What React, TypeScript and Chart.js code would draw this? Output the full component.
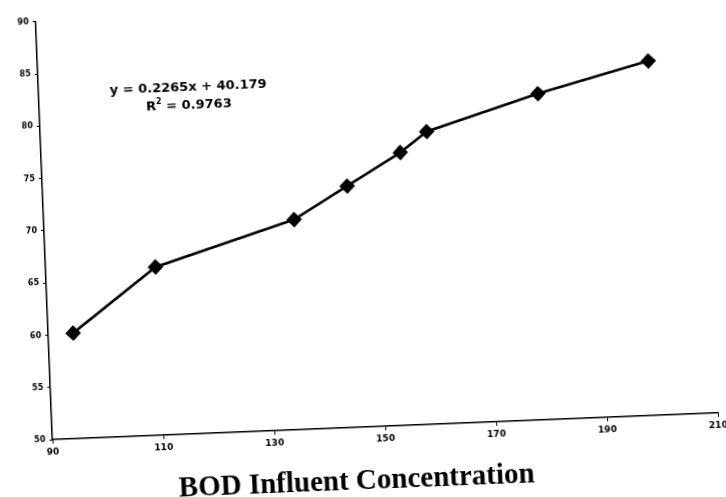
import React, { useEffect, useRef } from "react";
import { Chart, registerables } from "chart.js";

Chart.register(...registerables);

// BOD influent concentration (x) and removal efficiency (y)
const bodInfluent = [94.5, 109.8, 135.1, 144.9, 154.7, 159.6, 179.9, 200.0];
const removalEfficiency = [60.1, 66.1, 70.1, 73.1, 76.1, 78.0, 81.2, 83.9];

const xTickValues = [90, 110, 130, 150, 170, 190, 210];
const yTickValues = [50, 55, 60, 65, 70, 75, 80, 85, 90];

const equationText = "y = 0.2265x + 40.179";
const rSquaredText = "0.9763";
const xAxisTitle = "BOD Influent Concentration";

const annotationPlugin = {
  id: "annotationPlugin",
  afterDraw(chart: any) {
    const { ctx, chartArea } = chart;
    const xs = chart.scales.x;
    const ys = chart.scales.y;
    ctx.save();
    ctx.fillStyle = "#000";
    const big = 'bold 13px "DejaVu Sans"';
    const small = 'bold 8px "DejaVu Sans"';
    // equation
    ctx.font = big;
    ctx.textAlign = "center";
    ctx.textBaseline = "middle";
    const ex = xs.getPixelForValue(117);
    ctx.fillText(equationText, ex, ys.getPixelForValue(83.1));
    // R squared
    const cy = ys.getPixelForValue(81.4);
    ctx.textAlign = "left";
    const p1 = "R";
    const p3 = " = " + rSquaredText;
    const w1 = ctx.measureText(p1).width;
    const w3 = ctx.measureText(p3).width;
    ctx.font = small;
    const w2 = ctx.measureText("2").width;
    let sx = ex - (w1 + w2 + w3) / 2;
    ctx.font = big;
    ctx.fillText(p1, sx, cy);
    sx += w1;
    ctx.font = small;
    ctx.fillText("2", sx, cy - 5);
    sx += w2;
    ctx.font = big;
    ctx.fillText(p3, sx, cy);
    // axis title
    ctx.font = 'bold 29px "Liberation Serif"';
    ctx.textAlign = "center";
    ctx.fillText(xAxisTitle, chartArea.left + chartArea.width * 0.454, chartArea.bottom + 55);
    ctx.restore();
  },
};

export default function App() {
  const canvasRef = useRef<HTMLCanvasElement | null>(null);

  useEffect(() => {
    if (!canvasRef.current) return;
    const chart = new Chart(canvasRef.current, {
      type: "line",
      data: {
        datasets: [
          {
            data: bodInfluent.map((x, i) => ({ x, y: removalEfficiency[i] })),
            borderColor: "#000",
            backgroundColor: "#000",
            borderWidth: 2.6,
            pointStyle: "rectRot",
            pointRadius: 6,
            pointBackgroundColor: "#000",
            pointBorderColor: "#000",
            tension: 0,
          },
        ],
      },
      options: {
        animation: false,
        responsive: false,
        devicePixelRatio: 1,
        layout: { padding: { left: 0, right: 15, top: 0, bottom: 0 } },
        plugins: { legend: { display: false }, tooltip: { enabled: false } },
        scales: {
          x: {
            type: "linear",
            min: 90,
            max: 210,
            afterBuildTicks: (s: any) => {
              s.ticks = xTickValues.map((v) => ({ value: v }));
            },
            afterFit: (s: any) => {
              s.height = 70;
            },
            ticks: {
              color: "#000",
              font: { family: "DejaVu Sans", size: 9, weight: "bold" },
              padding: 3,
              maxRotation: 0,
            },
            grid: { drawOnChartArea: false, drawTicks: true, tickLength: 4, color: "#000" },
            border: { display: true, color: "#000", width: 1.5, dash: [26, 12] },
          },
          y: {
            type: "linear",
            min: 50,
            max: 90,
            afterBuildTicks: (s: any) => {
              s.ticks = yTickValues.map((v) => ({ value: v }));
            },
            afterFit: (s: any) => {
              s.width = 45;
            },
            ticks: {
              color: "#000",
              font: { family: "DejaVu Sans", size: 8, weight: "bold" },
              padding: 4,
            },
            grid: { drawOnChartArea: false, drawTicks: true, tickLength: 3, color: "#000" },
            border: { display: true, color: "#000", width: 1.5, dash: [48, 10] },
          },
        },
      },
      plugins: [annotationPlugin],
    } as any);
    return () => chart.destroy();
  }, []);

  return (
    <div
      style={{
        position: "fixed",
        left: 0,
        top: 0,
        width: 726,
        height: 497,
        overflow: "hidden",
        background: "#fff",
      }}
    >
      <div
        style={{
          width: 726,
          height: 497,
          transform: "rotate(-2.3deg)",
          transformOrigin: "363px 248px",
        }}
      >
        <canvas ref={canvasRef} width={726} height={497} style={{ display: "block" }} />
      </div>
    </div>
  );
}
